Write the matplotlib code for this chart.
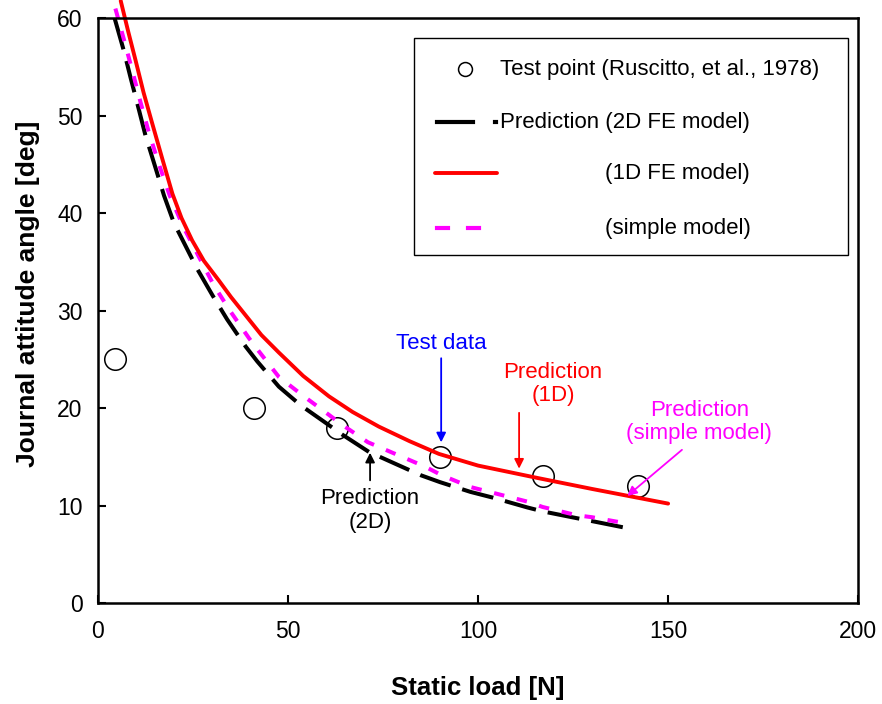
import matplotlib
matplotlib.use('Agg')
import matplotlib.pyplot as plt
from matplotlib.lines import Line2D
from matplotlib.patches import Rectangle

plt.rcParams['font.family'] = ['Liberation Sans', 'DejaVu Sans']

# test points (Ruscitto et al., 1978)
test_x = [4.5, 41, 63, 90, 117, 142]
test_y = [25, 20, 18, 15, 13, 12]

# prediction, 1D FE model
fe1d_x = [6.0, 8, 9.9, 12, 14.3, 17, 19.6, 22, 24.8, 27.9, 31.8, 35, 38.9, 43, 47.6,
          54, 60.8, 67, 73.9, 82, 89.7, 100, 116, 130, 150]
fe1d_y = [61.8, 58.6, 55.7, 52.4, 49.2, 45.5, 42.0, 39.5, 37.2, 35.1, 33.1, 31.4, 29.5,
          27.5, 25.7, 23.3, 21.2, 19.6, 18.1, 16.6, 15.3, 14.1, 12.8, 11.7, 10.2]

# prediction, 2D FE model
fe2d_x = [4.4, 6.8, 8.6, 10.8, 12.5, 15.2, 17.4, 20, 22.6, 26.1, 30.1, 34.0, 38.9, 41.9,
          47.6, 53.3, 59.5, 64.2, 71.3, 77, 85, 90, 98, 104, 113, 117, 126, 130, 139]
fe2d_y = [60, 56.7, 53.9, 50.6, 48.0, 44.6, 41.8, 39.0, 37.0, 34.3, 31.6, 29.1, 26.3, 24.8,
          22.2, 20.3, 18.6, 17.3, 15.5, 14.5, 13.1, 12.4, 11.4, 10.8, 9.8, 9.4, 8.7, 8.4, 7.7]

# prediction, simple model
simple_x = [4.6, 7, 9.0, 11.2, 13.4, 15.9, 18.9, 22.6, 26.6, 30.5, 34.9, 39.7, 42.4, 47.6,
            54.2, 60.8, 64.2, 71, 77, 86, 90.5, 98, 104, 113, 117, 126, 130, 140]
simple_y = [61.0, 57.6, 54.7, 51.4, 48.3, 45.2, 41.8, 38.5, 35.5, 32.6, 29.9, 27.2, 25.8,
            23.2, 21.2, 19.3, 18.3, 16.5, 15.5, 14.0, 13.1, 11.9, 11.3, 10.4, 9.85, 9.0,
            8.8, 8.1]

RED, MAG, BLUE = '#ff0000', '#ff00ff', '#0000ff'
BLACK_DASH = (0, (8, 3))
MAG_DASH = (0, (2.6, 3.2))
FS = 16

fig = plt.figure(figsize=(8.82, 7.04), dpi=100)
ax = fig.add_axes([0.111, 0.1435, 0.862, 0.8305])

ax.plot(fe2d_x, fe2d_y, color='black', lw=2.9, ls=BLACK_DASH, dash_capstyle='butt')
ax.plot(simple_x, simple_y, color=MAG, lw=2.9, ls=MAG_DASH, dash_capstyle='butt',
        clip_on=False)
ax.plot(fe1d_x, fe1d_y, color=RED, lw=2.8, solid_capstyle='round',
        solid_joinstyle='round', clip_on=False)
ax.plot(test_x, test_y, ls='none', marker='o', ms=15.5, mfc='white', mec='black',
        mew=1.1, zorder=1.5)

ax.set_xlim(0, 200)
ax.set_ylim(0, 60)
ax.set_xticks([0, 50, 100, 150, 200])
ax.set_yticks([0, 10, 20, 30, 40, 50, 60])
ax.tick_params(direction='in', length=6, width=1.5, labelsize=16.5, pad=12,
               top=False, right=False)
ax.tick_params(axis='y', pad=11)
for s in ax.spines.values():
    s.set_linewidth(1.8)
ax.set_xlabel('Static load [N]', fontsize=18.5, fontweight='bold')
ax.set_ylabel('Journal attitude angle [deg]', fontsize=19, fontweight='bold')
ax.xaxis.set_label_coords(0.5, -0.145)
ax.yaxis.set_label_coords(-0.092, 0.528)
ax.xaxis.label.set_va('center')
ax.yaxis.label.set_va('center')

# annotations
ax.text(90.3, 26.6, 'Test data', color=BLUE, fontsize=FS, ha='center', va='center')
ax.annotate('', xy=(90.3, 16.2), xytext=(90.3, 25.4),
            arrowprops=dict(arrowstyle='-|>', color=BLUE, lw=1.3, mutation_scale=14))
ax.text(119.7, 22.5, 'Prediction\n(1D)', color=RED, fontsize=FS, ha='center', va='center',
        linespacing=1.15)
ax.annotate('', xy=(110.8, 13.5), xytext=(110.8, 19.8),
            arrowprops=dict(arrowstyle='-|>', color=RED, lw=1.3, mutation_scale=14))
ax.text(158.2, 18.6, 'Prediction\n(simple model)', color=MAG, fontsize=FS, ha='center',
        va='center', linespacing=1.15)
ax.annotate('', xy=(138.7, 10.8), xytext=(154.2, 15.9),
            arrowprops=dict(arrowstyle='-|>', color=MAG, lw=1.3, mutation_scale=14))
ax.text(71.6, 9.5, 'Prediction\n(2D)', color='black', fontsize=FS, ha='center', va='center',
        linespacing=1.15)
ax.annotate('', xy=(71.6, 15.7), xytext=(71.6, 12.3),
            arrowprops=dict(arrowstyle='-|>', color='black', lw=1.3, mutation_scale=14))

# hand-built legend box (axes pixel layout of the original)
def fx(px):
    return (px - 98) / 760.0

def fy(py):
    return (603 - py) / 585.0

ax.add_patch(Rectangle((fx(414), fy(255)), fx(848) - fx(414), fy(38) - fy(255),
                       transform=ax.transAxes, fill=True, fc='white', ec='black', lw=1.0,
                       zorder=5))
rows = [69, 122, 173, 228]
ax.add_line(Line2D([fx(465)], [fy(rows[0])], transform=ax.transAxes, marker='o', ms=10,
                   mfc='white', mec='black', mew=1.1, ls='none', zorder=6))
ax.add_line(Line2D([fx(437), fx(473)], [fy(rows[1])] * 2, transform=ax.transAxes,
                   color='black', lw=3.0, zorder=6))
ax.add_line(Line2D([fx(495), fx(496)], [fy(rows[1])] * 2, transform=ax.transAxes,
                   color='black', lw=3.0, zorder=6))
ax.add_line(Line2D([fx(435), fx(497)], [fy(rows[2])] * 2, transform=ax.transAxes,
                   color=RED, lw=2.8, solid_capstyle='round', zorder=6))
ax.add_line(Line2D([fx(437), fx(448)], [fy(rows[3])] * 2, transform=ax.transAxes,
                   color=MAG, lw=3.0, zorder=6))
ax.add_line(Line2D([fx(468), fx(479)], [fy(rows[3])] * 2, transform=ax.transAxes,
                   color=MAG, lw=3.0, zorder=6))
labels = ['Test point (Ruscitto, et al., 1978)', 'Prediction (2D FE model)',
          '(1D FE model)', '(simple model)']
starts = [500, 500, 605, 605]
for lab, x0, r in zip(labels, starts, rows):
    ax.text(fx(x0), fy(r), lab, transform=ax.transAxes, fontsize=FS, ha='left',
            va='center', zorder=6)

fig.savefig('out.png', dpi=100)
